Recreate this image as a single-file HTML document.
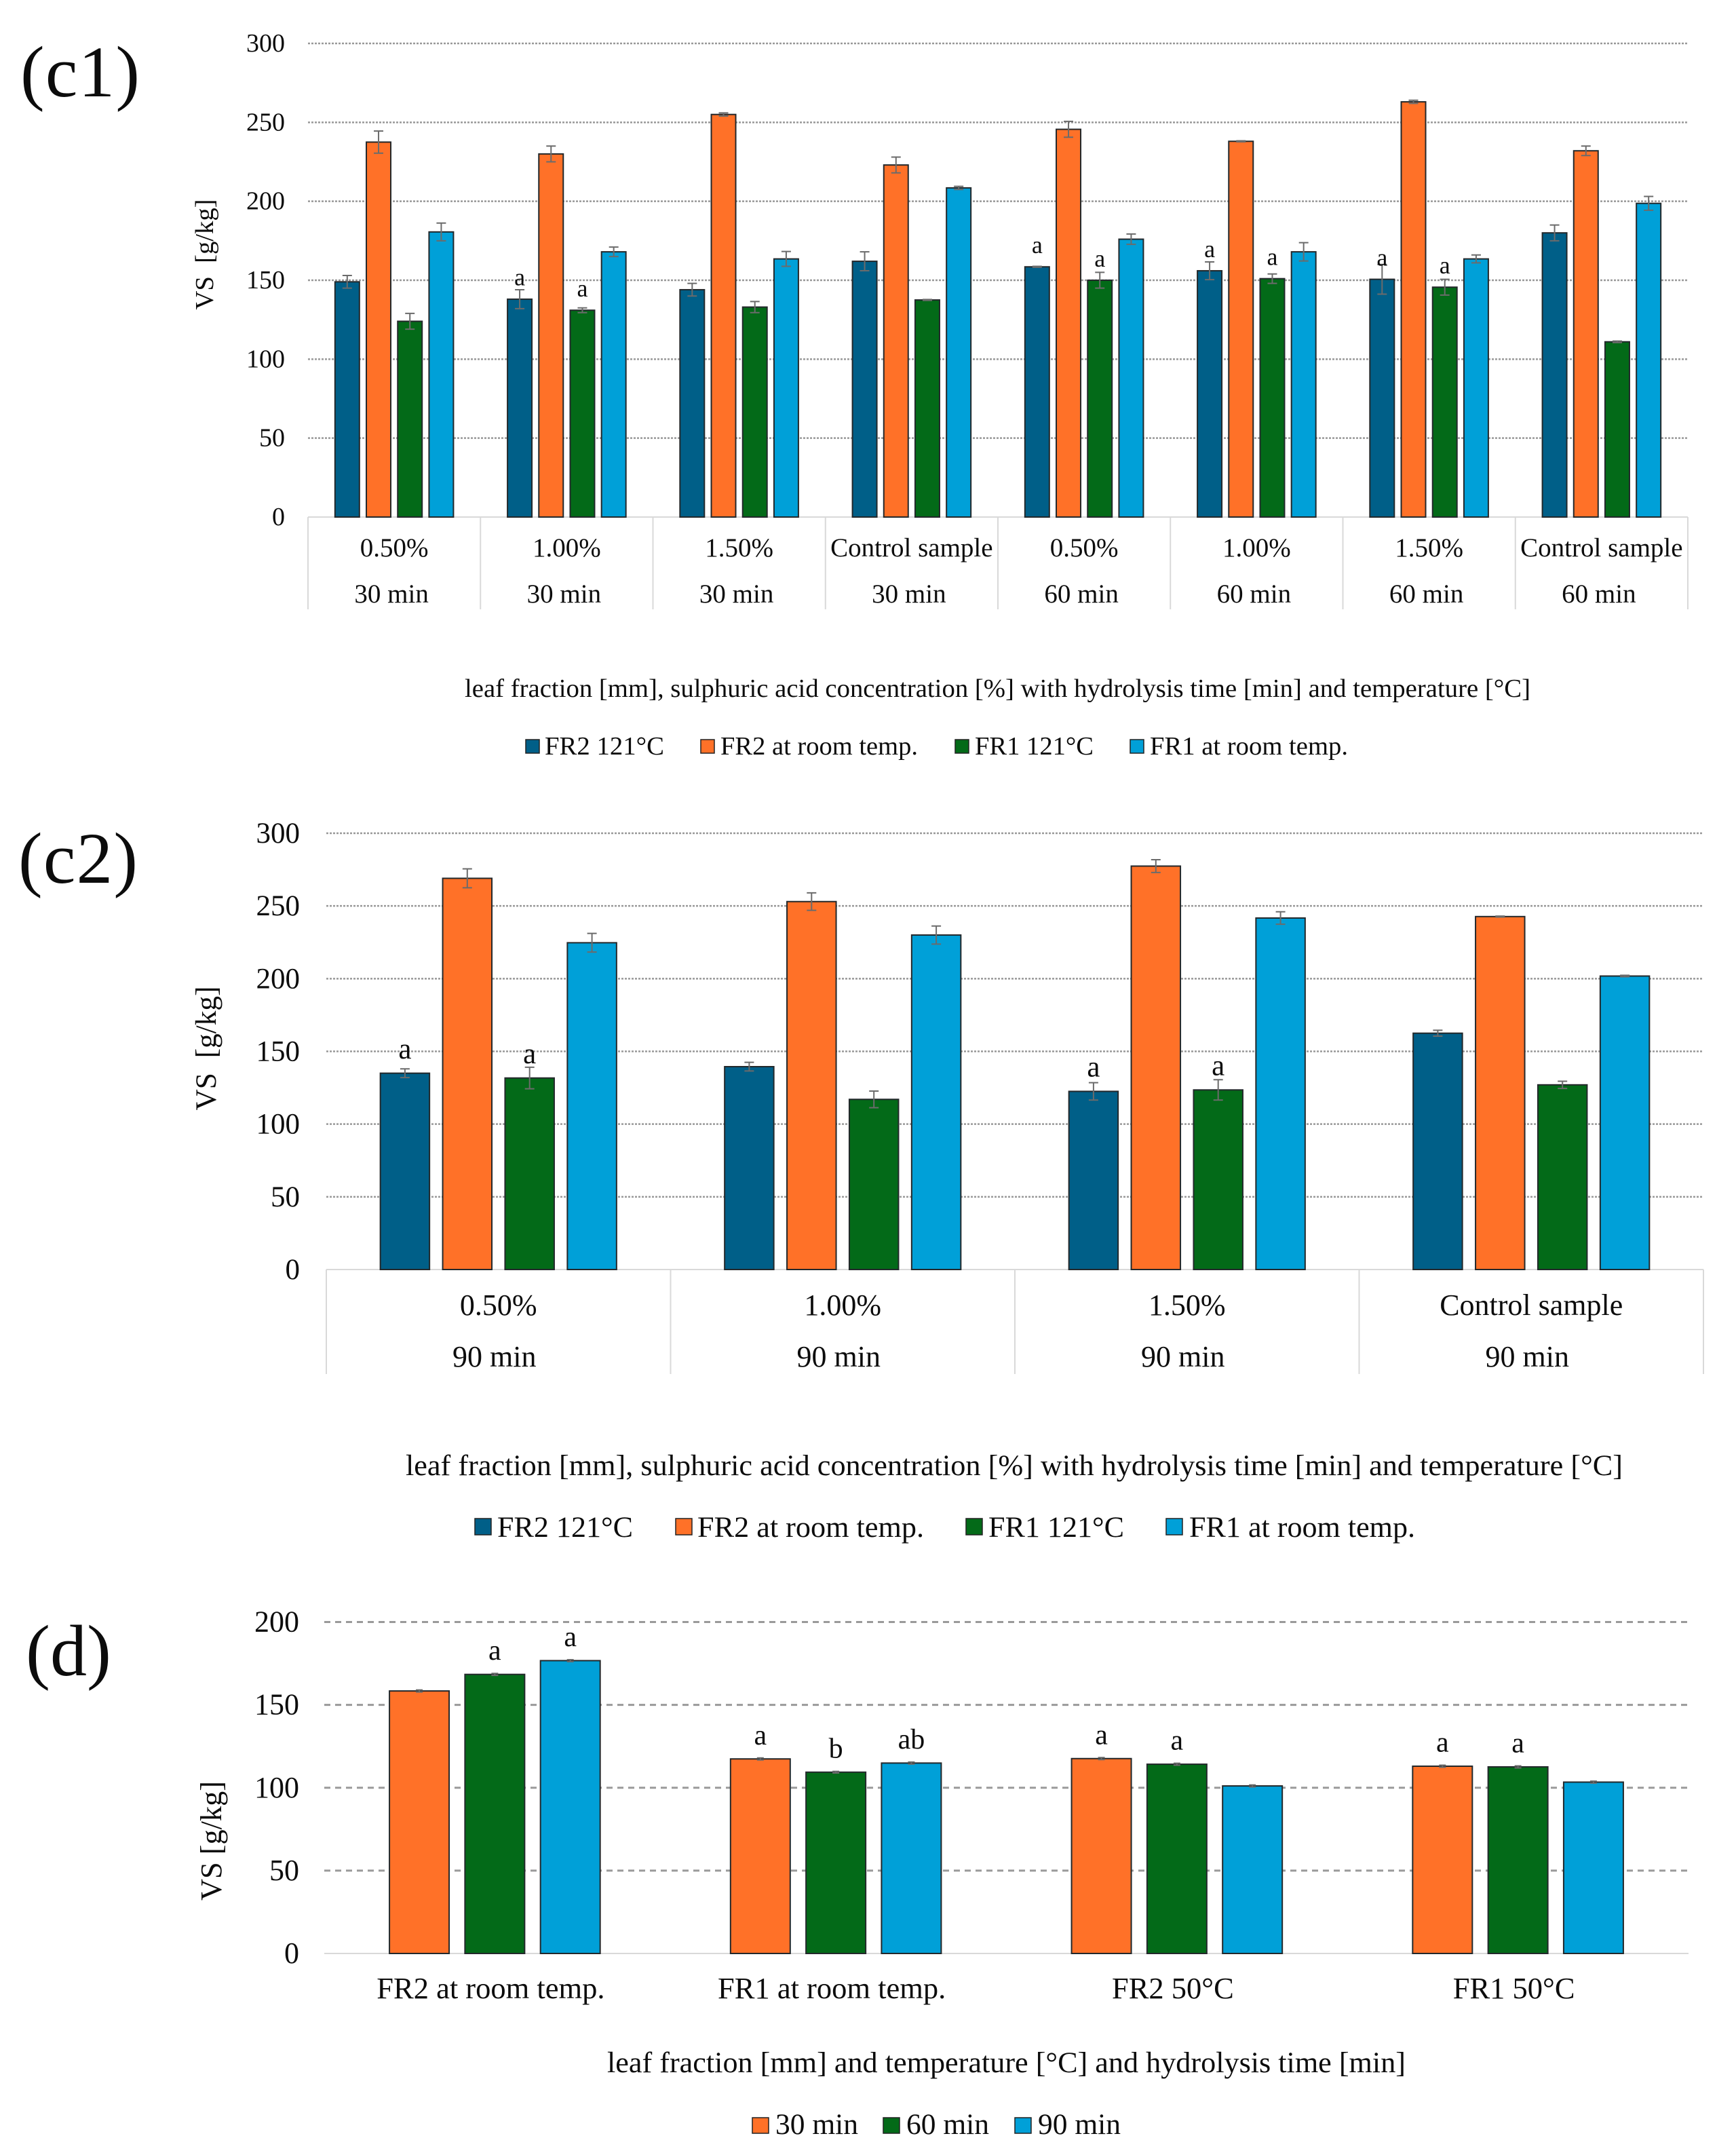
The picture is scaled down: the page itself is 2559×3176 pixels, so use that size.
<!DOCTYPE html>
<html lang="en">
<head>
<meta charset="utf-8">
<title>VS yield charts</title>
<style>
html,body{margin:0;padding:0;background:#fff;}
svg{display:block;}
text{font-family:"Liberation Serif",serif;fill:#0c0c0c;}
</style>
</head>
<body>
<svg id="figure" xmlns="http://www.w3.org/2000/svg" width="2559" height="3176" viewBox="0 0 2559 3176">
<rect width="2559" height="3176" fill="#fff"/>
<text x="30" y="142" font-size="107" textLength="176" lengthAdjust="spacing">(c1)</text>
<text x="27" y="1301" font-size="107" textLength="176" lengthAdjust="spacing">(c2)</text>
<text x="38" y="2469" font-size="107" textLength="126" lengthAdjust="spacingAndGlyphs">(d)</text>

<g id="chart-c1"></g>
<g id="chart-c2"></g>
<g id="chart-d"></g>

<g>
<text transform="translate(314,375) rotate(-90)" text-anchor="middle" font-size="38" textLength="163" lengthAdjust="spacingAndGlyphs">VS&#160;&#160;[g/kg]</text>
<text x="685" y="1027" font-size="38" textLength="1571" lengthAdjust="spacingAndGlyphs">leaf fraction [mm], sulphuric acid concentration [%] with hydrolysis time [min] and temperature [°C]</text>
</g>
<g>
<rect x="775" y="1090" width="20" height="20" fill="#005f88" stroke="#222" stroke-width="1.5"/>
<text x="803" y="1112" font-size="38" textLength="176" lengthAdjust="spacingAndGlyphs">FR2 121°C</text>
<rect x="1033" y="1090" width="20" height="20" fill="#ff7128" stroke="#222" stroke-width="1.5"/>
<text x="1062" y="1112" font-size="38" textLength="291" lengthAdjust="spacingAndGlyphs">FR2 at room temp.</text>
<rect x="1408" y="1090" width="20" height="20" fill="#036a18" stroke="#222" stroke-width="1.5"/>
<text x="1437" y="1112" font-size="38" textLength="175" lengthAdjust="spacingAndGlyphs">FR1 121°C</text>
<rect x="1666" y="1090" width="20" height="20" fill="#00a0d8" stroke="#222" stroke-width="1.5"/>
<text x="1695" y="1112" font-size="38" textLength="292" lengthAdjust="spacingAndGlyphs">FR1 at room temp.</text>
</g>

<g>
<text transform="translate(318,1545) rotate(-90)" text-anchor="middle" font-size="43" textLength="183" lengthAdjust="spacingAndGlyphs">VS&#160;&#160;[g/kg]</text>
<text x="598" y="2174" font-size="43" textLength="1794" lengthAdjust="spacingAndGlyphs">leaf fraction [mm], sulphuric acid concentration [%] with hydrolysis time [min] and temperature [°C]</text>
</g>
<g>
<rect x="700" y="2238" width="24" height="24" fill="#005f88" stroke="#222" stroke-width="1.5"/>
<text x="733" y="2265" font-size="43" textLength="200" lengthAdjust="spacingAndGlyphs">FR2 121°C</text>
<rect x="996" y="2238" width="24" height="24" fill="#ff7128" stroke="#222" stroke-width="1.5"/>
<text x="1028" y="2265" font-size="43" textLength="334" lengthAdjust="spacingAndGlyphs">FR2 at room temp.</text>
<rect x="1424" y="2238" width="24" height="24" fill="#036a18" stroke="#222" stroke-width="1.5"/>
<text x="1457" y="2265" font-size="43" textLength="200" lengthAdjust="spacingAndGlyphs">FR1 121°C</text>
<rect x="1719" y="2238" width="24" height="24" fill="#00a0d8" stroke="#222" stroke-width="1.5"/>
<text x="1753" y="2265" font-size="43" textLength="333" lengthAdjust="spacingAndGlyphs">FR1 at room temp.</text>
</g>

<g>
<text transform="translate(326,2713) rotate(-90)" text-anchor="middle" font-size="44" textLength="176" lengthAdjust="spacingAndGlyphs">VS [g/kg]</text>
<text x="895" y="3054" font-size="43" textLength="1177" lengthAdjust="spacingAndGlyphs">leaf fraction [mm] and temperature [°C] and hydrolysis time [min]</text>
</g>
<g>
<rect x="1109" y="3121" width="24" height="23" fill="#ff7128" stroke="#222" stroke-width="1.5"/>
<text x="1143" y="3145" font-size="43" textLength="122" lengthAdjust="spacingAndGlyphs">30 min</text>
<rect x="1302" y="3121" width="24" height="23" fill="#036a18" stroke="#222" stroke-width="1.5"/>
<text x="1336" y="3145" font-size="43" textLength="122" lengthAdjust="spacingAndGlyphs">60 min</text>
<rect x="1496" y="3121" width="24" height="23" fill="#00a0d8" stroke="#222" stroke-width="1.5"/>
<text x="1530" y="3145" font-size="43" textLength="122" lengthAdjust="spacingAndGlyphs">90 min</text>
</g>
</svg>

<script>
// ---- chart c1 data ----
const c1Categories = ['0.50%','1.00%','1.50%','Control sample','0.50%','1.00%','1.50%','Control sample'];
const c1Times = ['30 min','30 min','30 min','30 min','60 min','60 min','60 min','60 min'];
const c1Ticks = [0,50,100,150,200,250,300];
const c1Fr2Hot = [149,138,144,162,158.5,156,150.6,180];
const c1Fr2Room = [237.5,230,255,223,245.6,238,263,232];
const c1Fr1Hot = [124,131,133,137.5,150,151,145.6,111];
const c1Fr1Room = [180.6,168,163.5,208.5,176,168,163.5,198.7];
const c1Fr2HotErr = [4,6,4,6,0.3,5.6,9.4,5];
const c1Fr2RoomErr = [7,5,1,5,5,0.3,1,3];
const c1Fr1HotErr = [5,1.5,3.5,0.3,5,3,5,0.5];
const c1Fr1RoomErr = [5.6,3,4.7,1,3.3,5.8,2.5,4.4];
const c1Fr2HotLetters = ['','a','','','a','a','a',''];
const c1Fr1HotLetters = ['','a','','','a','a','a',''];

// ---- chart c2 data ----
const c2Categories = ['0.50%','1.00%','1.50%','Control sample'];
const c2Times = ['90 min','90 min','90 min','90 min'];
const c2Ticks = [0,50,100,150,200,250,300];
const c2Fr2Hot = [135,139.5,122.5,162.5];
const c2Fr2Room = [269,253,277.4,242.7];
const c2Fr1Hot = [131.7,117,123.5,127];
const c2Fr1Room = [224.7,230,241.7,201.8];
const c2Fr2HotErr = [3,3,6,2];
const c2Fr2RoomErr = [6.5,6,4.4,0.3];
const c2Fr1HotErr = [7.4,5.7,7,2.5];
const c2Fr1RoomErr = [6.4,6.2,4.3,0.5];
const c2Fr2HotLetters = ['a','','a',''];
const c2Fr1HotLetters = ['a','','a',''];

// ---- chart d data ----
const dCategories = ['FR2 at room temp.','FR1 at room temp.','FR2 50°C','FR1 50°C'];
const dTicks = [0,50,100,150,200];
const d30Min = [158.4,117.4,117.6,113];
const d60Min = [168.4,109.4,114.2,112.6];
const d90Min = [176.7,114.9,101.1,103.4];
const d30MinErr = [0.6,0.6,0.6,0.6];
const d60MinErr = [0.6,0.5,0.6,0.6];
const d90MinErr = [0.6,0.6,0.6,0.6];
const d30MinLetters = ['','a','a','a'];
const d60MinLetters = ['a','b','a','a'];
const d90MinLetters = ['a','ab','',''];

const SVG_NS = 'http://www.w3.org/2000/svg';
const COLORS = {navy:'#005f88', orange:'#ff7128', green:'#036a18', blue:'#00a0d8'};

function make(tag, parent, props, label) {
  const el = document.createElementNS(SVG_NS, tag);
  for (const k in props) el.setAttribute(k, props[k]);
  if (label !== undefined) el.textContent = label;
  parent.appendChild(el);
  return el;
}

function drawChart(c) {
  const root = document.getElementById(c.id);
  const catW = (c.right - c.left) / c.categories.length;
  const yScale = v => c.y0 - (v / c.yMax) * (c.y0 - c.yTop);
  const groupW = c.series.length * c.barW + (c.series.length - 1) * c.gap;
  const xScale = (i, s) => c.left + catW * i + (catW - groupW) / 2 + s * (c.barW + c.gap);

  c.ticks.forEach(t => {
    if (t !== 0) {
      const line = make('line', root, {x1:c.left, x2:c.right, y1:yScale(t), y2:yScale(t), stroke:c.gridColor, 'stroke-width':c.gridWidth, 'stroke-dasharray':c.gridDash});
      
      
    }
    const label = make('text', root, {x:c.tickX, y:yScale(t) + c.tickDy, 'text-anchor':'end', 'font-size':c.font}, String(t));
    
    
  });

  const axis = make('line', root, {x1:c.left, x2:c.right, y1:c.y0, y2:c.y0, stroke:'#d9d9d9', 'stroke-width':2});
  
  

  if (c.times) {
    for (let i = 0; i <= c.categories.length; i++) {
      const x = c.left + catW * i;
      const div = make('line', root, {x1:x, x2:x, y1:c.y0, y2:c.divEnd, stroke:'#d9d9d9', 'stroke-width':2});
      
      
    }
  }

  c.categories.forEach((cat, i) => {
    const cx = c.left + catW * (i + 0.5);
    const lab = make('text', root, {x:cx + c.catDx, y:c.catY, 'text-anchor':'middle', 'font-size':c.catFont}, cat);
    
    
    if (c.times) {
      const t = make('text', root, {x:cx + c.timeDx, y:c.timeY, 'text-anchor':'middle', 'font-size':c.catFont}, c.times[i]);
      
      
    }
  });

  c.series.forEach((s, si) => {
    s.values.forEach((v, i) => {
      const x = xScale(i, si);
      const top = yScale(v);
      const bar = make('rect', root, {x:x, y:top, width:c.barW, height:c.y0 - top, fill:s.color, stroke:'#23282b', 'stroke-width':2});
      
      

      const e = s.errors[i];
      const cx = x + c.barW / 2;
      const err = make('path', root, {
        d:'M' + (cx - c.cap) + ' ' + yScale(v + e) + 'H' + (cx + c.cap) +
          'M' + cx + ' ' + yScale(v + e) + 'V' + yScale(v - e) +
          'M' + (cx - c.cap) + ' ' + yScale(v - e) + 'H' + (cx + c.cap),
        fill:'none', stroke:'#6b6b6b', 'stroke-width':2
      });
      
      

      const letter = s.letters ? s.letters[i] : '';
      if (letter) {
        const lt = make('text', root, {x:cx, y:yScale(v + c.letterGap), 'text-anchor':'middle', 'font-size':c.letterFont}, letter);
        
        
      }
    });
  });
}

drawChart({
  id:'chart-c1', prefix:'c1', left:454, right:2488, y0:762, yTop:64, yMax:300,
  ticks:c1Ticks, tickX:420, tickDy:12, font:38, catFont:39, barW:36, gap:10.2, cap:7,
  gridColor:'#999999', gridWidth:2.5, gridDash:'3 2',
  categories:c1Categories, times:c1Times, catY:820, timeY:888, divEnd:898, catDx:0, timeDx:-4,
  letterGap:8.7, letterFont:36,
  series:[
    {key:'fr2-121', color:COLORS.navy, values:c1Fr2Hot, errors:c1Fr2HotErr, letters:c1Fr2HotLetters},
    {key:'fr2-room', color:COLORS.orange, values:c1Fr2Room, errors:c1Fr2RoomErr},
    {key:'fr1-121', color:COLORS.green, values:c1Fr1Hot, errors:c1Fr1HotErr, letters:c1Fr1HotLetters},
    {key:'fr1-room', color:COLORS.blue, values:c1Fr1Room, errors:c1Fr1RoomErr}
  ]
});

drawChart({
  id:'chart-c2', prefix:'c2', left:481, right:2511, y0:1871, yTop:1228, yMax:300,
  ticks:c2Ticks, tickX:442, tickDy:14, font:43, catFont:44, barW:72.5, gap:19.4, cap:7,
  gridColor:'#999999', gridWidth:2.5, gridDash:'3 2',
  categories:c2Categories, times:c2Times, catY:1938, timeY:2014, divEnd:2025, catDx:0, timeDx:-6,
  letterGap:10.2, letterFont:43,
  series:[
    {key:'fr2-121', color:COLORS.navy, values:c2Fr2Hot, errors:c2Fr2HotErr, letters:c2Fr2HotLetters},
    {key:'fr2-room', color:COLORS.orange, values:c2Fr2Room, errors:c2Fr2RoomErr},
    {key:'fr1-121', color:COLORS.green, values:c2Fr1Hot, errors:c2Fr1HotErr, letters:c2Fr1HotLetters},
    {key:'fr1-room', color:COLORS.blue, values:c2Fr1Room, errors:c2Fr1RoomErr}
  ]
});

drawChart({
  id:'chart-d', prefix:'d', left:478, right:2489, y0:2879, yTop:2390.5, yMax:200,
  ticks:dTicks, tickX:441, tickDy:14, font:44, catFont:44.5, barW:88, gap:23.3, cap:5,
  gridColor:'#9a9a9a', gridWidth:3, gridDash:'9 7',
  categories:dCategories, catY:2945, catDx:-6,
  letterGap:8.8, letterFont:42,
  series:[
    {key:'30-min', color:COLORS.orange, values:d30Min, errors:d30MinErr, letters:d30MinLetters},
    {key:'60-min', color:COLORS.green, values:d60Min, errors:d60MinErr, letters:d60MinLetters},
    {key:'90-min', color:COLORS.blue, values:d90Min, errors:d90MinErr, letters:d90MinLetters}
  ]
});
</script>
</body>
</html>
